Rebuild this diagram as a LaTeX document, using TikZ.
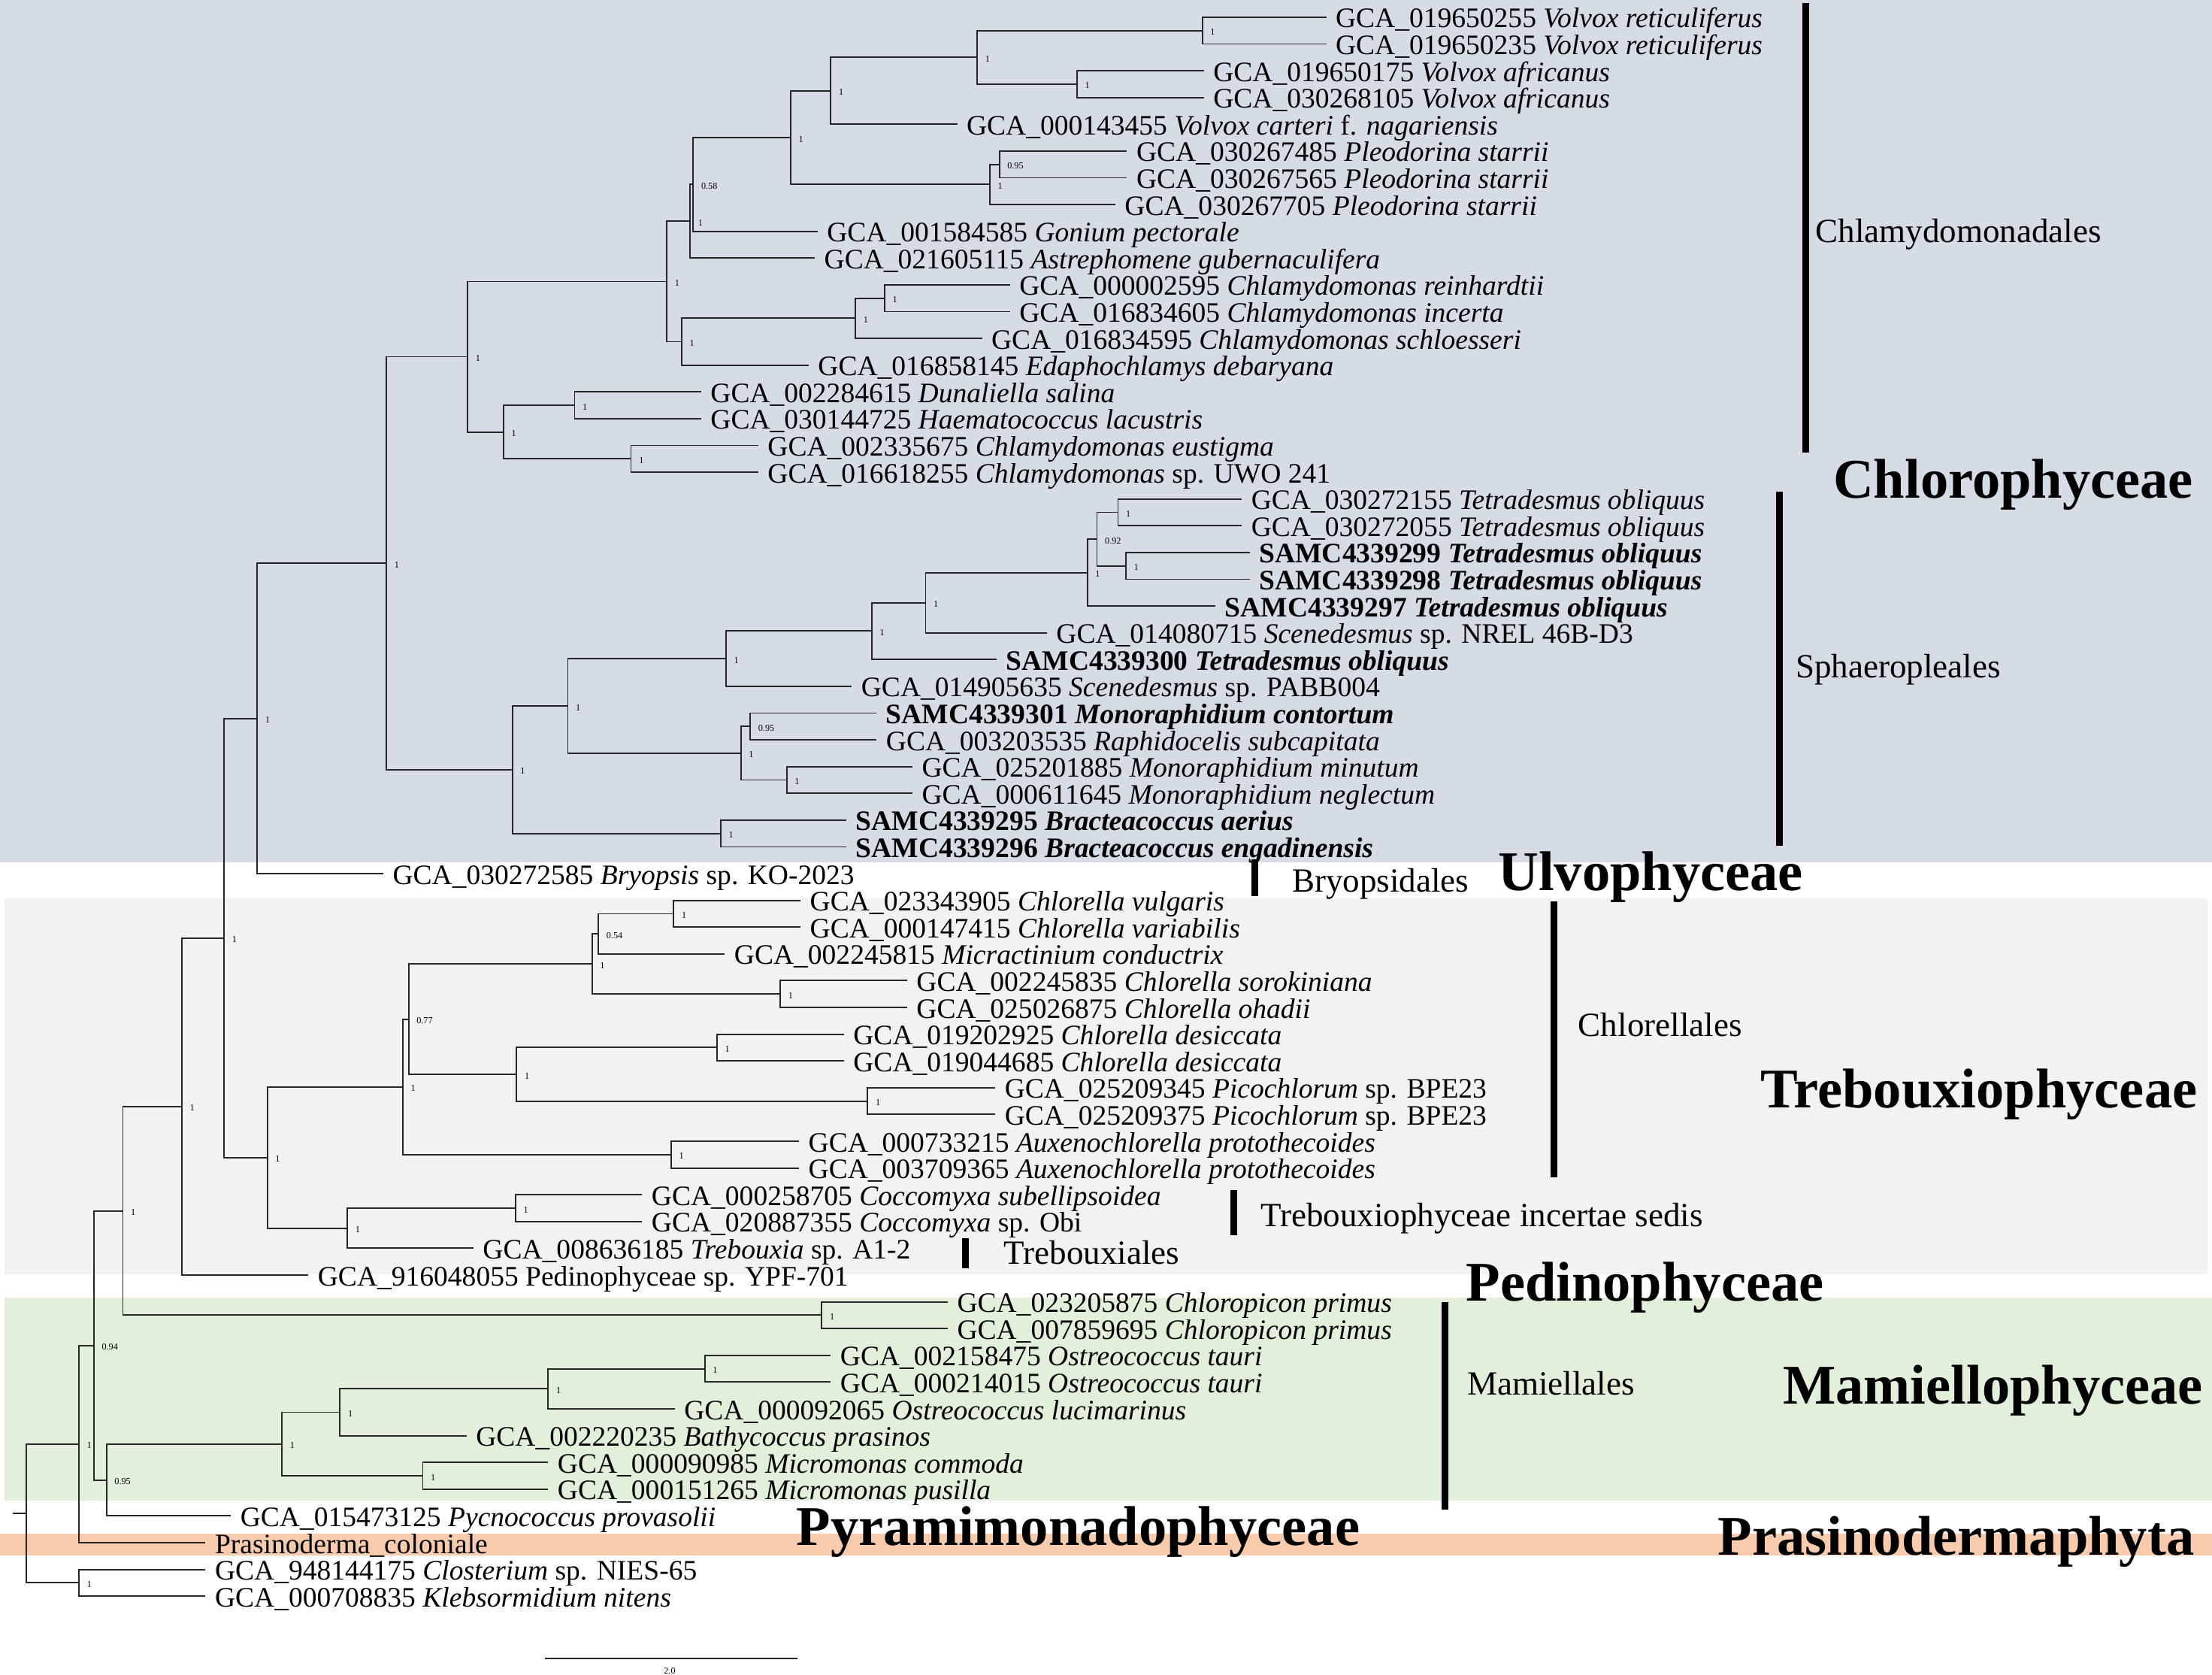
\documentclass[tikz,border=0pt]{standalone}
\usepackage{fontspec}
\setmainfont{Liberation Serif}
\usetikzlibrary{calc}
\definecolor{chlbg}{HTML}{D6DCE5}
\definecolor{trebg}{HTML}{F2F2F2}
\definecolor{mambg}{HTML}{E2EFDA}
\definecolor{prabg}{HTML}{F8CBAD}
\tikzset{
 br/.style={draw=black!85, line width=1pt},
 lf/.style={anchor=base west, inner sep=0pt, font=\fontsize{20}{22}\selectfont},
 sup/.style={anchor=base west, inner sep=0pt, font=\fontsize{6.5}{7}\selectfont},
 ord/.style={anchor=base west, inner sep=0pt, font=\fontsize{24}{26}\selectfont},
 cls/.style={anchor=base west, inner sep=0pt, font=\fontsize{39.7}{42}\selectfont\bfseries},
 cladebar/.style={line width=4.8pt, draw=black},
}
\newcommand\leaf[3]{%
  \coordinate (T#1) at (#2,{12.2+(#1-1)*18.966});
  \node[lf] (L#1) at ($(T#1)+(6.5,7.5)$) {#3};
}
\newcommand\clade[5]{%
  \path ($(#3)!0.5!(#4)$) coordinate (m#1);
  \coordinate (#1) at (perpendicular cs: horizontal line through={(m#1)}, vertical line through={(#2,0)});
  \draw[br] (#3) -| (#1) |- (#4);
  \node[sup] (s#1) at ($(#1)+(5.5,3.2)$) {#5};
}
\begin{document}
\begin{tikzpicture}[x=1pt,y=-1pt]
\useasboundingbox (0,0) rectangle (1568,1187);
% background bands
\fill[chlbg] (0,0) rectangle (1568,611);
\fill[trebg] (3,636.5) rectangle (1565,903);
\fill[mambg] (3,919.6) rectangle (1568,1063.3);
\fill[prabg] (0,1086.8) rectangle (1568,1102.3);

% leaves
\leaf{1}{940.1}{GCA\_019650255 \textit{Volvox reticuliferus}}
\leaf{2}{940.1}{GCA\_019650235 \textit{Volvox reticuliferus}}
\leaf{3}{853.4}{GCA\_019650175 \textit{Volvox africanus}}
\leaf{4}{853.4}{GCA\_030268105 \textit{Volvox africanus}}
\leaf{5}{678.5}{GCA\_000143455 \textit{Volvox carteri} f. \textit{nagariensis}}
\leaf{6}{798.9}{GCA\_030267485 \textit{Pleodorina starrii}}
\leaf{7}{798.9}{GCA\_030267565 \textit{Pleodorina starrii}}
\leaf{8}{790.6}{GCA\_030267705 \textit{Pleodorina starrii}}
\leaf{9}{579.5}{GCA\_001584585 \textit{Gonium pectorale}}
\leaf{10}{577.6}{GCA\_021605115 \textit{Astrephomene gubernaculifera}}
\leaf{11}{715.9}{GCA\_000002595 \textit{Chlamydomonas reinhardtii}}
\leaf{12}{715.9}{GCA\_016834605 \textit{Chlamydomonas incerta}}
\leaf{13}{696.1}{GCA\_016834595 \textit{Chlamydomonas schloesseri}}
\leaf{14}{573.2}{GCA\_016858145 \textit{Edaphochlamys debaryana}}
\leaf{15}{497}{GCA\_002284615 \textit{Dunaliella salina}}
\leaf{16}{497}{GCA\_030144725 \textit{Haematococcus lacustris}}
\leaf{17}{537.5}{GCA\_002335675 \textit{Chlamydomonas eustigma}}
\leaf{18}{537.5}{GCA\_016618255 \textit{Chlamydomonas} sp. UWO 241}
\leaf{19}{880.3}{GCA\_030272155 \textit{Tetradesmus obliquus}}
\leaf{20}{880.3}{GCA\_030272055 \textit{Tetradesmus obliquus}}
\leaf{21}{886}{\textbf{SAMC4339299 \textit{Tetradesmus obliquus}}}
\leaf{22}{886}{\textbf{SAMC4339298 \textit{Tetradesmus obliquus}}}
\leaf{23}{861.7}{\textbf{SAMC4339297 \textit{Tetradesmus obliquus}}}
\leaf{24}{742.1}{GCA\_014080715 \textit{Scenedesmus} sp. NREL 46B-D3}
\leaf{25}{706.6}{\textbf{SAMC4339300 \textit{Tetradesmus obliquus}}}
\leaf{26}{603.8}{GCA\_014905635 \textit{Scenedesmus} sp. PABB004}
\leaf{27}{621.4}{\textbf{SAMC4339301 \textit{Monoraphidium contortum}}}
\leaf{28}{621.4}{GCA\_003203535 \textit{Raphidocelis subcapitata}}
\leaf{29}{646.8}{GCA\_025201885 \textit{Monoraphidium minutum}}
\leaf{30}{646.8}{GCA\_000611645 \textit{Monoraphidium neglectum}}
\leaf{31}{600.1}{\textbf{SAMC4339295 \textit{Bracteacoccus aerius}}}
\leaf{32}{600.1}{\textbf{SAMC4339296 \textit{Bracteacoccus engadinensis}}}
\leaf{33}{271.7}{GCA\_030272585 \textit{Bryopsis} sp. KO-2023}
\leaf{34}{567.5}{GCA\_023343905 \textit{Chlorella vulgaris}}
\leaf{35}{567.5}{GCA\_000147415 \textit{Chlorella variabilis}}
\leaf{36}{513.8}{GCA\_002245815 \textit{Micractinium conductrix}}
\leaf{37}{643}{GCA\_002245835 \textit{Chlorella sorokiniana}}
\leaf{38}{643}{GCA\_025026875 \textit{Chlorella ohadii}}
\leaf{39}{598.2}{GCA\_019202925 \textit{Chlorella desiccata}}
\leaf{40}{598.2}{GCA\_019044685 \textit{Chlorella desiccata}}
\leaf{41}{705.5}{GCA\_025209345 \textit{Picochlorum} sp. BPE23}
\leaf{42}{705.5}{GCA\_025209375 \textit{Picochlorum} sp. BPE23}
\leaf{43}{566.4}{GCA\_000733215 \textit{Auxenochlorella protothecoides}}
\leaf{44}{566.4}{GCA\_003709365 \textit{Auxenochlorella protothecoides}}
\leaf{45}{455.2}{GCA\_000258705 \textit{Coccomyxa subellipsoidea}}
\leaf{46}{455.2}{GCA\_020887355 \textit{Coccomyxa} sp. Obi}
\leaf{47}{335.6}{GCA\_008636185 \textit{Trebouxia} sp. A1-2}
\leaf{48}{218.6}{GCA\_916048055 Pedinophyceae sp. YPF-701}
\leaf{49}{671.8}{GCA\_023205875 \textit{Chloropicon primus}}
\leaf{50}{671.8}{GCA\_007859695 \textit{Chloropicon primus}}
\leaf{51}{588.9}{GCA\_002158475 \textit{Ostreococcus tauri}}
\leaf{52}{588.9}{GCA\_000214015 \textit{Ostreococcus tauri}}
\leaf{53}{478.3}{GCA\_000092065 \textit{Ostreococcus lucimarinus}}
\leaf{54}{330.7}{GCA\_002220235 \textit{Bathycoccus prasinos}}
\leaf{55}{388.6}{GCA\_000090985 \textit{Micromonas commoda}}
\leaf{56}{388.6}{GCA\_000151265 \textit{Micromonas pusilla}}
\leaf{57}{163.7}{GCA\_015473125 \textit{Pycnococcus provasolii}}
\leaf{58}{145.7}{Prasinoderma\_coloniale}
\leaf{59}{145.7}{GCA\_948144175 \textit{Closterium} sp. NIES-65}
\leaf{60}{145.7}{GCA\_000708835 \textit{Klebsormidium nitens}}

% clades
\clade{cA12}{852.3}{T1}{T2}{1}
\clade{cA34}{763.4}{T3}{T4}{1}
\clade{cA14}{692.7}{cA12}{cA34}{1}
\clade{cA15}{588.9}{cA14}{T5}{1}
\clade{cA67}{708.4}{T6}{T7}{0.95}
\clade{cA68}{701.7}{cA67}{T8}{1}
\clade{cVP}{560.5}{cA15}{cA68}{1}
\clade{cGo}{491.4}{cVP}{T9}{0.58}
\clade{cGA}{489.2}{cGo}{T10}{1}
\clade{cB1112}{627}{T11}{T12}{1}
\clade{cB1113}{606.4}{cB1112}{T13}{1}
\clade{cB1114}{483.2}{cB1113}{T14}{1}
\clade{cCore}{472.7}{cGA}{cB1114}{1}
\clade{cC1516}{407.3}{T15}{T16}{1}
\clade{cC1718}{447.3}{T17}{T18}{1}
\clade{cC1518}{356.9}{cC1516}{cC1718}{1}
\clade{cChlam}{331.5}{cCore}{cC1518}{1}
\clade{cD1920}{792.5}{T19}{T20}{1}
\clade{cD2122}{798.1}{T21}{T22}{1}
\clade{cD1922}{777.6}{cD1920}{cD2122}{0.92}
\clade{cD1923}{770.8}{cD1922}{T23}{1}
\clade{cD1924}{656.1}{cD1923}{T24}{1}
\clade{cD1925}{618}{cD1924}{T25}{1}
\clade{cD1926}{514.6}{cD1925}{T26}{1}
\clade{cE2728}{531.8}{T27}{T28}{0.95}
\clade{cE2930}{557.6}{T29}{T30}{1}
\clade{cE2730}{525.1}{cE2728}{cE2930}{1}
\clade{cD1930}{402.5}{cD1926}{cE2730}{1}
\clade{cF3132}{510.9}{T31}{T32}{1}
\clade{cSph}{363.2}{cD1930}{cF3132}{1}
\clade{cChlor}{273.9}{cChlam}{cSph}{1}
\clade{cUlv}{182.4}{cChlor}{T33}{1}
\clade{cG3435}{477.6}{T34}{T35}{1}
\clade{cG3436}{424.2}{cG3435}{T36}{0.54}
\clade{cG3738}{553.1}{T37}{T38}{1}
\clade{cG3438}{419.7}{cG3436}{cG3738}{1}
\clade{cH3940}{508.2}{T39}{T40}{1}
\clade{cH4142}{615}{T41}{T42}{1}
\clade{cH3942}{366.2}{cH3940}{cH4142}{1}
\clade{cGH}{289.6}{cG3438}{cH3942}{0.77}
\clade{cI4344}{475.7}{T43}{T44}{1}
\clade{cChlorel}{285.5}{cGH}{cI4344}{1}
\clade{cJ4546}{365.5}{T45}{T46}{1}
\clade{cJ4547}{246.3}{cJ4546}{T47}{1}
\clade{cTreb}{189.5}{cChlorel}{cJ4547}{1}
\clade{cUT}{158.8}{cUlv}{cTreb}{1}
\clade{cUTP}{128.9}{cUT}{T48}{1}
\clade{cK4950}{582.5}{T49}{T50}{1}
\clade{cCore2}{87.1}{cUTP}{cK4950}{1}
\clade{cL5152}{499.6}{T51}{T52}{1}
\clade{cL5153}{388.6}{cL5152}{T53}{1}
\clade{cL5154}{241}{cL5153}{T54}{1}
\clade{cL5556}{299.7}{T55}{T56}{1}
\clade{cL5156}{199.9}{cL5154}{cL5556}{1}
\clade{cL5157}{75.5}{cL5156}{T57}{0.95}
\clade{cX}{66.5}{cCore2}{cL5157}{0.94}
\clade{cY}{56.1}{cX}{T58}{1}
\clade{cM5960}{56.1}{T59}{T60}{1}
% root
\path ($(cY)!0.5!(cM5960)$) coordinate (mroot);
\coordinate (root) at (perpendicular cs: horizontal line through={(mroot)}, vertical line through={(18.7,0)});
\draw[br] (cY) -| (root) |- (cM5960);
\coordinate (rootstub) at (perpendicular cs: horizontal line through={(root)}, vertical line through={(9.3,0)});
\draw[br] (rootstub) -- (root);

% clade bars and order labels
\coordinate (bChT) at (1280,2); \coordinate (bChB) at (1280,320.8);
\draw[cladebar] (bChT) -- (bChB);
\node[ord] (oCh) at (1286.8,172) {Chlamydomonadales};
\coordinate (bSpT) at (1261.3,348.6); \coordinate (bSpB) at (1261.3,599.4);
\draw[cladebar] (bSpT) -- (bSpB);
\node[ord] (oSp) at (1272.7,480.5) {Sphaeropleales};
\coordinate (bBrT) at (889.7,609.1); \coordinate (bBrB) at (889.7,634.9);
\draw[cladebar] (bBrT) -- (bBrB);
\node[ord] (oBr) at (915.8,632) {Bryopsidales};
\coordinate (bCeT) at (1101.3,639); \coordinate (bCeB) at (1101.3,834.5);
\draw[cladebar] (bCeT) -- (bCeB);
\node[ord] (oCe) at (1118.6,734.6) {Chlorellales};
\coordinate (bTiT) at (874.7,843.5); \coordinate (bTiB) at (874.7,875.5);
\draw[cladebar] (bTiT) -- (bTiB);
\node[ord] (oTi) at (893.4,869) {Trebouxiophyceae incertae sedis};
\coordinate (bTxT) at (684.1,877.3); \coordinate (bTxB) at (684.1,898.6);
\draw[cladebar] (bTxT) -- (bTxB);
\node[ord] (oTx) at (711.4,896) {Trebouxiales};
\coordinate (bMaT) at (1024.5,922.6); \coordinate (bMaB) at (1024.5,1070);
\draw[cladebar] (bMaT) -- (bMaB);
\node[ord] (oMa) at (1039.9,988.5) {Mamiellales};

% class labels
\node[cls] (kCh) at (1299.3,352.7) {Chlorophyceae};
\node[cls] (kUl) at (1061.8,631.2) {Ulvophyceae};
\node[cls] (kTr) at (1247.8,785) {Trebouxiophyceae};
\node[cls] (kPe) at (1039,922) {Pedinophyceae};
\node[cls] (kMa) at (1263.7,995) {Mamiellophyceae};
\node[cls] (kPy) at (564.5,1095) {Pyramimonadophyceae};
\node[cls] (kPr) at (1217.7,1102.3) {Prasinodermaphyta};

% scale bar
\coordinate (sbL) at (386.1,1175.3); \coordinate (sbR) at (565.5,1175.3);
\draw[br] (sbL) -- (sbR);
\node[inner sep=0pt, font=\fontsize{6.5}{7}\selectfont] (sbT) at (474.7,1184) {2.0};
\end{tikzpicture}
\end{document}
